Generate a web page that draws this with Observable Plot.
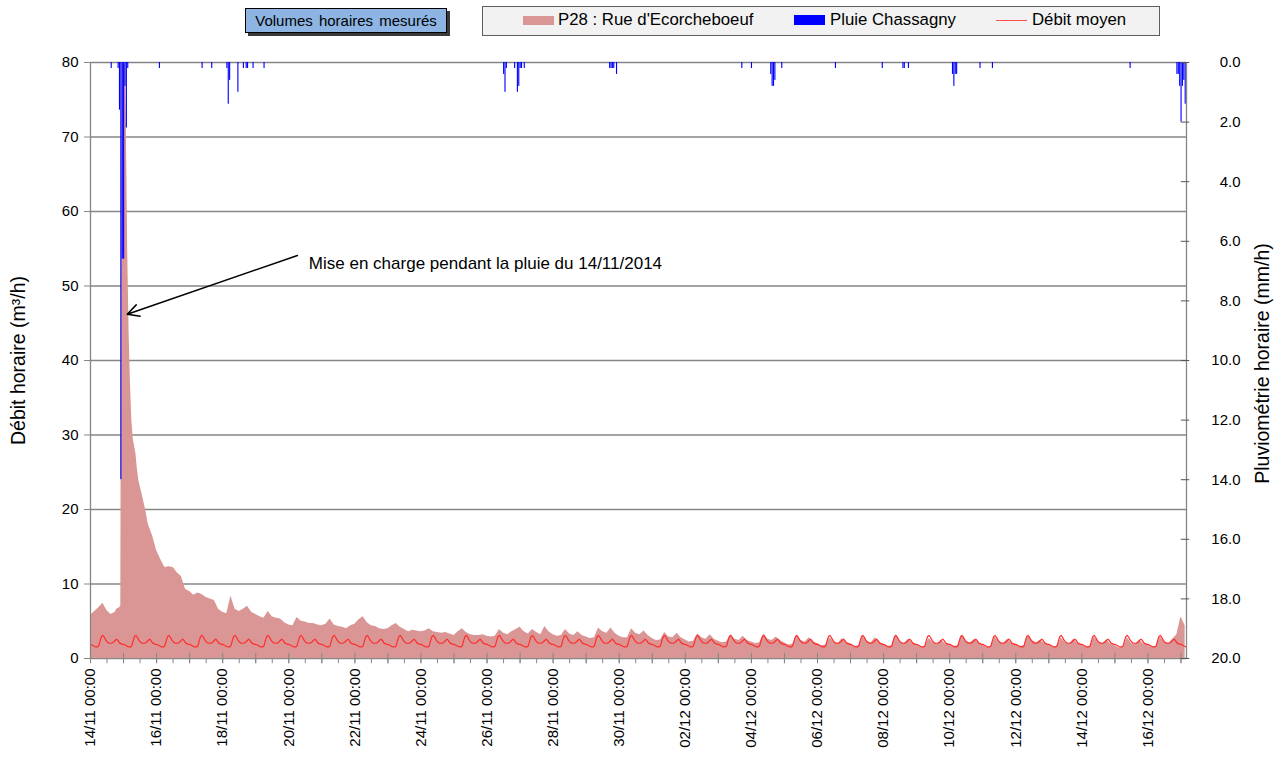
<!DOCTYPE html>
<html>
<head>
<meta charset="utf-8">
<script src="https://cdn.jsdelivr.net/npm/d3@7"></script>
<script src="https://cdn.jsdelivr.net/npm/@observablehq/plot@0.6"></script>
<style>
  body { margin: 0; background: #fff; font-family: "Liberation Sans", Arial, sans-serif; }
  #wrap { position: relative; width: 1279px; height: 757px; overflow: hidden; }
  #legend { position: relative; height: 40px; }
  #box1 { position: absolute; left: 245px; top: 8px; width: 200px; height: 23px; background: #8db4e2;
          border: 1px solid #000; box-shadow: 3px 3px 0 #3a3a3a; font-size: 15px; line-height: 23px;
          text-align: center; color: #000; word-spacing: 2px; }
  #box2 { position: absolute; left: 482px; top: 6px; width: 676px; height: 28px; background: #f2f2f2;
          border: 1px solid #5e5e5e; }
  .sw { position: absolute; }
  .lt { position: absolute; top: 9px; font-size: 16.8px; line-height: 22px; color: #000; white-space: nowrap; }
</style>
</head>
<body>
<div id="wrap">
  <div id="legend">
    <div id="box1">Volumes horaires mesurés</div>
    <div id="box2"></div>
    <span class="sw" style="left:523px;top:16px;width:31px;height:9px;background:#d99694"></span>
    <span class="lt" style="left:558px">P28 : Rue d'Ecorcheboeuf</span>
    <span class="sw" style="left:794px;top:15px;width:31px;height:10px;background:#0000ff"></span>
    <span class="lt" style="left:830px">Pluie Chassagny</span>
    <span class="sw" style="left:996px;top:20px;width:31px;height:1px;background:#ff5050"></span>
    <span class="lt" style="left:1032px">Débit moyen</span>
  </div>
  <div id="chart"></div>
</div>
<script>
// ---------- DATA ----------
// Start of series: 14/11/2014 00:00 ; hours counted from there
const debutSerie = Date.UTC(2014, 10, 14, 0, 0);
const heuresTotal = 796; // end of axis: 17/12/2014 04:00

// P28 : Rue d'Ecorcheboeuf — 3-hourly values (m3/h), one row per day (00h,03h,...,21h); null = hourly detail below
const debit3h = [
  5.8, 6.3, 6.8, 7.4, 6.4, 5.9, 6.2, null,          // 14/11
  null, null, null, null, null, null, 18.0, 16.5,   // 15/11
  14.5, 13.3, 12.2, 12.3, 12.2, 11.5, 11.0, 9.3,    // 16/11
  9.0, 8.5, 8.8, 8.6, 8.2, 8.0, 7.8, 6.6,           // 17/11
  6.2, 6.0, 8.4, 6.6, 6.3, 6.6, 7.0, 6.2,           // 18/11
  5.9, 5.6, 5.4, 6.3, 5.6, 5.4, 5.3, 4.8,           // 19/11
  4.5, 4.4, 5.5, 5.0, 4.9, 4.7, 4.7, 4.5,           // 20/11
  4.4, 4.6, 5.3, 4.5, 4.3, 4.2, 4.0, 4.4,           // 21/11
  4.6, 5.2, 5.6, 4.8, 4.4, 4.3, 4.0, 3.9,           // 22/11
  4.0, 4.4, 4.7, 4.2, 3.9, 3.6, 3.8, 3.7,           // 23/11
  3.6, 3.7, 4.0, 3.6, 3.5, 3.4, 3.5, 3.3,           // 24/11
  3.1, 3.6, 4.0, 3.5, 3.2, 3.1, 3.1, 3.2,           // 25/11
  3.0, 2.9, 3.0, 3.9, 3.4, 3.2, 3.6, 3.9,           // 26/11
  4.2, 3.6, 3.3, 3.9, 3.5, 3.2, 4.3, 3.6,           // 27/11
  3.2, 3.0, 3.1, 3.9, 3.3, 3.1, 3.6, 3.1,           // 28/11
  2.9, 2.7, 2.8, 4.1, 3.6, 3.4, 4.1, 3.4,           // 29/11
  3.0, 2.8, 2.8, 4.0, 3.4, 3.2, 3.7, 3.1,           // 30/11
  2.7, 2.4, 2.5, 3.5, 2.9, 2.8, 3.4, 2.8,           // 01/12
  2.5, 2.2, 2.3, 3.3, 2.8, 2.6, 3.2, 2.6,           // 02/12
  2.3, 2.1, 2.2, 3.2, 2.6, 2.4, 3.0, 2.4,           // 03/12
  2.2, 2.0, 2.1, 3.3, 2.6, 2.4, 2.9, 2.4,           // 04/12
  2.1, 1.8, 1.9, 3.1, 2.4, 2.2, 2.8, 2.2,           // 05/12
  2.0, 1.7, 1.8, 2.8, 2.2, 2.0, 2.7, 2.1,           // 06/12
  2.0, 1.6, 1.7, 3.0, 2.3, 2.1, 2.8, 2.1,           // 07/12
  1.9, 1.6, 1.7, 3.2, 2.2, 2.0, 2.6, 2.0,           // 08/12
  1.8, 1.5, 1.6, 2.7, 2.1, 1.9, 2.5, 1.9,           // 09/12
  1.9, 1.6, 1.7, 3.1, 2.3, 2.1, 2.6, 2.1,           // 10/12
  1.8, 1.5, 1.6, 2.9, 2.2, 2.0, 2.6, 2.0,           // 11/12
  1.9, 1.6, 1.7, 3.0, 2.4, 2.1, 2.5, 2.0,           // 12/12
  1.8, 1.5, 1.6, 2.8, 2.1, 1.9, 2.6, 2.0,           // 13/12
  1.8, 1.5, 1.6, 2.9, 2.2, 2.0, 2.5, 1.9,           // 14/12
  1.7, 1.4, 1.5, 2.8, 2.0, 1.9, 2.5, 1.9,           // 15/12
  1.8, 1.5, 1.6, 2.9, 2.2, 2.0, 2.6, 3.2,           // 16/12
  5.6, 4.4                                          // 17/12
];

// Hourly detail of the storm peak (14/11 19:00 -> 15/11 17:00)
const debitPicPremiereHeure = 19;
const debitPic = [6.6, 6.7, 6.8, 7.0, 90, 96, 88, 72, 55, 44, 37, 32, 29.5, 28.5, 27.5,
                  25.5, 24.0, 23.2, 22.4, 21.6, 20.8, 20.0, 19.0];

// Débit moyen: mean hourly profile (00h..23h), repeated every day
const profilMoyen = [1.9, 1.8, 1.7, 1.6, 1.55, 1.55, 1.7, 2.4, 2.95, 3.1, 2.85, 2.5,
                     2.25, 2.1, 2.05, 2.05, 2.1, 2.25, 2.45, 2.6, 2.4, 2.1, 2.0, 1.9];

// Pluie Chassagny (mm/h): hour index and value
const pluieHeures = [15, 20, 21, 22, 23, 24, 25, 26, 27, 50, 81, 88, 99, 100, 101, 107, 111, 113, 114, 118, 126,
                     300, 301, 302, 308, 310, 311, 312, 313, 315, 377, 378, 379, 380, 382,
                     473, 480, 494, 495, 496, 497, 502, 541, 575, 590, 591, 594,
                     626, 627, 628, 629, 646, 655, 755, 789, 790, 791, 792, 793, 794, 795];
const pluieMm =     [0.2, 0.2, 1.6, 14.0, 6.6, 6.6, 0.8, 2.2, 0.2, 0.2, 0.2, 0.2, 0.2, 1.4, 0.6, 1.0, 0.2, 0.2, 0.2, 0.2, 0.2,
                     0.4, 1.0, 0.2, 0.2, 1.0, 0.8, 0.2, 0.2, 0.2, 0.2, 0.2, 0.2, 0.2, 0.4,
                     0.2, 0.2, 0.4, 0.8, 0.8, 0.6, 0.2, 0.2, 0.2, 0.2, 0.2, 0.2,
                     0.4, 0.8, 0.4, 0.4, 0.2, 0.2, 0.2, 0.4, 0.4, 0.8, 2.0, 0.8, 0.6, 1.4];

// Axes
const debitTicks = [0, 10, 20, 30, 40, 50, 60, 70, 80];
const debitMax = 80;
const pluieMax = 20;
const pluieTicks = [0, 2, 4, 6, 8, 10, 12, 14, 16, 18, 20];
const joursLabels = [0, 2, 4, 6, 8, 10, 12, 14, 16, 18, 20, 22, 24, 26, 28, 30, 32];

// Annotation
const annotationTexte = "Mise en charge pendant la pluie du 14/11/2014";
const flecheDebut = {h: 150.3, v: 54.1};
const flecheFin = {h: 26.7, v: 46.2};
const texteAncre = {h: 158.6, v: 53.0};

// ---------- BUILD ----------
const H = 3600e3;
const dateH = h => new Date(debutSerie + h * H);
const finSerie = dateH(heuresTotal);

const debitTable = [];
debit3h.forEach((v, k) => { if (v != null) debitTable.push({t: dateH(3 * k), v}); });
debitPic.forEach((v, i) => debitTable.push({t: dateH(debitPicPremiereHeure + i), v}));
debitTable.sort((a, b) => a.t - b.t);

const moyenTable = [];
for (let h = 0; h <= heuresTotal; h++) moyenTable.push({t: dateH(h), v: profilMoyen[h % 24]});

// Rain drawn on the secondary (inverted) axis: 0 mm/h at top (80), 20 mm/h at bottom (0)
const k = debitMax / pluieMax;
const pluieTable = pluieHeures.map((h, i) => ({t1: dateH(h), t2: dateH(h + 1), y1: debitMax, y2: debitMax - k * pluieMm[i]}));
const pluieTickPos = pluieTicks.map(p => ({y: debitMax - k * p, label: p.toFixed(1)}));

const demiJours = d3.utcHour.every(12).range(new Date(debutSerie), finSerie);
const jours = d3.utcDay.range(new Date(debutSerie), finSerie);
const joursLab = joursLabels.map(d => dateH(24 * d));

const grid = "#868686";
const fmt = d3.utcFormat("%d/%m %H:%M");

const chart = Plot.plot({
  width: 1279,
  height: 717,
  marginLeft: 90,
  marginRight: 93,
  marginTop: 22,
  marginBottom: 99,
  x: {type: "utc", domain: [new Date(debutSerie), finSerie]},
  y: {domain: [0, debitMax]},
  style: {fontFamily: '"Liberation Sans", Arial, sans-serif', fontSize: "15px", color: "#000", background: "#fff", overflow: "visible"},
  marks: [
    Plot.ruleY(debitTicks, {stroke: grid, strokeWidth: 1.3}),
    Plot.areaY(debitTable, {x: "t", y: "v", fill: "#d99694", clip: true}),
    Plot.lineY(moyenTable, {x: "t", y: "v", stroke: "#ff2e2e", strokeWidth: 1.2, clip: true}),
    Plot.rect(pluieTable, {x1: "t1", x2: "t2", y1: "y1", y2: "y2", fill: "#0000ff", insetRight: 0.25, clip: true}),
    Plot.ruleX([new Date(debutSerie), finSerie], {y1: 0, y2: debitMax, stroke: grid, strokeWidth: 1.3}),
    // x ticks: half-days outside, days crossing
    Plot.ruleX(demiJours, {y1: 0, y2: -0.7, stroke: grid}),
    Plot.ruleX(jours, {y1: -0.7, y2: 0.7, stroke: grid}),
    Plot.axisX(joursLab, {tickSize: 0, tickPadding: 10, tickRotate: -90, tickFormat: fmt, fontSize: 15, label: null}),
    Plot.axisY(debitTicks, {anchor: "left", tickSize: 6, tickPadding: 6, stroke: grid, fontSize: 15, label: null}),
    // secondary axis (pluviométrie)
    Plot.ruleY(pluieTickPos, {y: "y", x1: dateH(heuresTotal - 3.8), x2: dateH(heuresTotal + 2.4), stroke: "#555"}),
    Plot.axisY(pluieTickPos.map(d => d.y), {anchor: "right", tickSize: 0, tickPadding: 54, textAnchor: "end",
      tickFormat: d => ((debitMax - d) / k).toFixed(1), fontSize: 15, label: null}),
    // axis titles
    Plot.text(["Débit horaire (m³/h)"], {frameAnchor: "left", textAnchor: "middle", dx: -72, rotate: -90, fontSize: 19.5}),
    Plot.text(["Pluviométrie horaire (mm/h)"], {frameAnchor: "right", textAnchor: "middle", dx: 76, dy: 3, rotate: -90, fontSize: 19.5}),
    // annotation
    Plot.arrow([{x1: dateH(flecheDebut.h), y1: flecheDebut.v, x2: dateH(flecheFin.h), y2: flecheFin.v}],
      {x1: "x1", y1: "y1", x2: "x2", y2: "y2", bend: 0, stroke: "#000", strokeWidth: 1.5, headLength: 13, headAngle: 55}),
    Plot.text([annotationTexte], {x: dateH(texteAncre.h), y: texteAncre.v, textAnchor: "start", fontSize: 17})
  ]
});
document.getElementById("chart").appendChild(chart);
</script>
</body>
</html>
